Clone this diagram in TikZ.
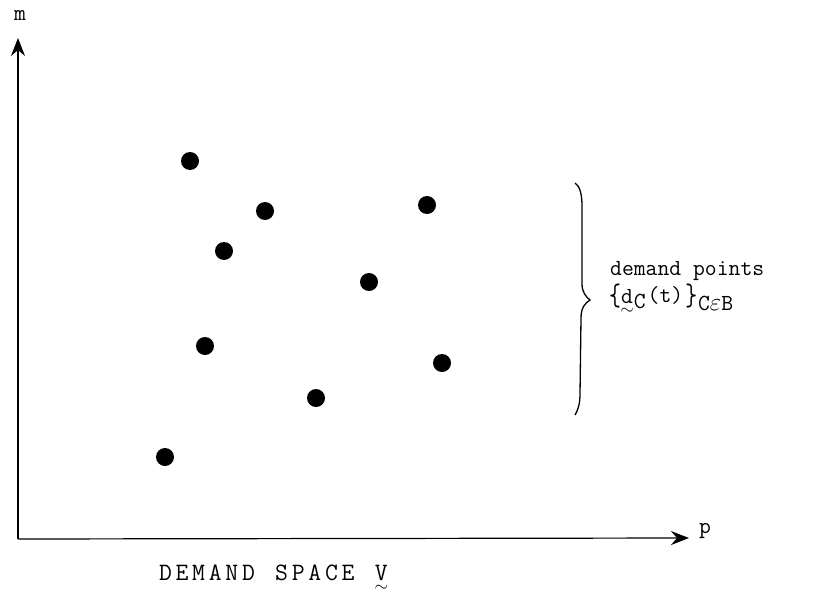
\documentclass[tikz,border=0pt]{standalone}
\usetikzlibrary{arrows.meta}
\newcommand\utl[1]{\setbox0\hbox{#1}\rlap{\hbox to\wd0{\hss\raisebox{-11pt}{\fontsize{18}{18}\selectfont$\sim$}\hss}}#1}
\newlength\pitch
\def\spaced#1{\spacedi#1\relax}
\def\spacedi#1{\ifx\relax#1\else\makebox[\pitch]{#1}\expandafter\spacedi\fi}
\begin{document}
\begin{tikzpicture}[x=1pt,y=-1pt,
  dot/.style={circle,fill=black,inner sep=0pt,minimum size=18pt},
  axis/.style={line width=1.2pt,-{Stealth[length=18pt,width=14pt,inset=6pt]}},
  lbl/.style={font=\ttfamily\fontsize{23}{25}\selectfont,inner sep=0pt},
  caps/.style={font=\ttfamily\fontsize{25}{28}\selectfont,inner sep=0pt}]
\useasboundingbox (0,0) rectangle (832,594);
\coordinate (O) at (18,539);
\coordinate (ytip) at (18,38);
\coordinate (xtip) at (689,538);
\draw[axis] (O) -- (ytip);
\draw[axis] (O) -- (xtip);
\node[lbl,anchor=base] (m) at (20,21) {m};
\node[lbl,anchor=base west] (p) at (699,533) {p};
\foreach \n/\x/\y in {1/190/161,2/265/211,3/427/205,4/224/251,5/369/282,6/205/346,7/442/363,8/316/398,9/165/457}
  \node[dot] (d\n) at (\x,\y) {};
\draw[line width=1.3pt] (575,183) .. controls (580,186) and (582,195) .. (582,206) -- (582,284)
  .. controls (582,292) and (586,297) .. (590,300)
  .. controls (585,303) and (581,308) .. (581,318) -- (580,394)
  .. controls (580,404) and (578,410) .. (575,415);
\node[lbl,anchor=base west] (dp) at (610,275) {demand points};
\node[lbl,anchor=base west] (set) at (609,303) {\raisebox{-2pt}{\scalebox{1}[1.35]{\{}}\utl{d}\kern1pt\raisebox{-5pt}{C}\kern2pt\raisebox{1pt}{(t)}\kern2pt\raisebox{-2pt}{\scalebox{1}[1.35]{\}}}\kern1pt\raisebox{-7pt}{C$\varepsilon$B}};
\setlength\pitch{16.6pt}
\node[caps,anchor=base west] (ds) at (157,580) {\spaced{DEMAND~SPACE~}\makebox[\pitch]{\utl{V}}};
\end{tikzpicture}
\end{document}
